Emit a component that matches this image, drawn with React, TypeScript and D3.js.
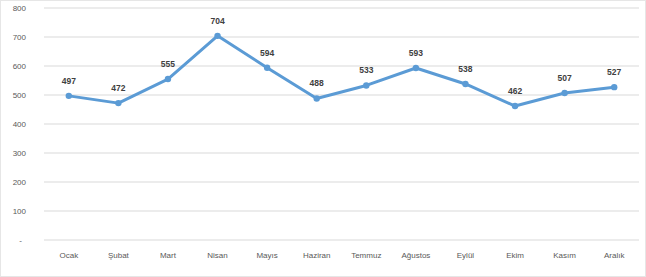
import React, { useEffect, useRef } from "react";
import * as d3 from "d3";

// monthly values
const months = ["Ocak", "Şubat", "Mart", "Nisan", "Mayıs", "Haziran", "Temmuz", "Ağustos", "Eylül", "Ekim", "Kasım", "Aralık"];
const values = [497, 472, 555, 704, 594, 488, 533, 593, 538, 462, 507, 527];
const yTicks = [0, 100, 200, 300, 400, 500, 600, 700, 800];

const W = 646;
const H = 277;

export default function App() {
  const ref = useRef<SVGSVGElement>(null);

  useEffect(() => {
    const svg = d3.select(ref.current);
    svg.selectAll("*").remove();

    const x = d3.scalePoint<string>().domain(months).range([44, 639]).padding(0.5);
    const y = d3.scaleLinear().domain([0, 800]).range([240, 8]);

    svg.append("rect").attr("width", W).attr("height", H).attr("fill", "#fff");

    // grid
    svg
      .append("g")
      .selectAll("line")
      .data(yTicks)
      .join("line")
      .attr("x1", 44)
      .attr("x2", 639)
      .attr("y1", (d) => y(d))
      .attr("y2", (d) => y(d))
      .attr("stroke", "#d9d9d9")
      .attr("stroke-width", 1);

    // y labels
    svg
      .append("g")
      .selectAll("text")
      .data(yTicks)
      .join("text")
      .attr("x", (d) => (d === 0 ? 22 : 26))
      .attr("y", (d) => y(d) + 3)
      .attr("text-anchor", "end")
      .attr("font-family", "Liberation Sans, Arial, sans-serif")
      .attr("font-size", 8)
      .attr("fill", "#595959")
      .text((d) => (d === 0 ? "-" : String(d)));

    // x labels
    svg
      .append("g")
      .selectAll("text")
      .data(months)
      .join("text")
      .attr("x", (d) => x(d)!)
      .attr("y", 258)
      .attr("text-anchor", "middle")
      .attr("font-family", "Liberation Sans, Arial, sans-serif")
      .attr("font-size", 8)
      .attr("fill", "#595959")
      .text((d) => d);

    const line = d3
      .line<number>()
      .x((d, i) => x(months[i])!)
      .y((d) => y(d));

    svg
      .append("path")
      .datum(values)
      .attr("d", line)
      .attr("fill", "none")
      .attr("stroke", "#5b9bd5")
      .attr("stroke-width", 3)
      .attr("stroke-linejoin", "round");

    svg
      .append("g")
      .selectAll("circle")
      .data(values)
      .join("circle")
      .attr("cx", (d, i) => x(months[i])!)
      .attr("cy", (d) => y(d))
      .attr("r", 3.2)
      .attr("fill", "#5b9bd5");

    svg
      .append("g")
      .selectAll("text")
      .data(values)
      .join("text")
      .attr("x", (d, i) => x(months[i])!)
      .attr("y", (d) => y(d) - 12)
      .attr("text-anchor", "middle")
      .attr("font-family", "Liberation Sans, Arial, sans-serif")
      .attr("font-size", 8.5)
      .attr("font-weight", "bold")
      .attr("fill", "#404040")
      .text((d) => d);

    // faint frame
    svg
      .append("rect")
      .attr("x", 0.5)
      .attr("y", 0.5)
      .attr("width", W - 1)
      .attr("height", H - 1)
      .attr("fill", "none")
      .attr("stroke", "#e6e6e6");
  }, []);

  return (
    <svg
      ref={ref}
      width={W}
      height={H}
      style={{ position: "absolute", left: 0, top: 0, display: "block" }}
    />
  );
}
